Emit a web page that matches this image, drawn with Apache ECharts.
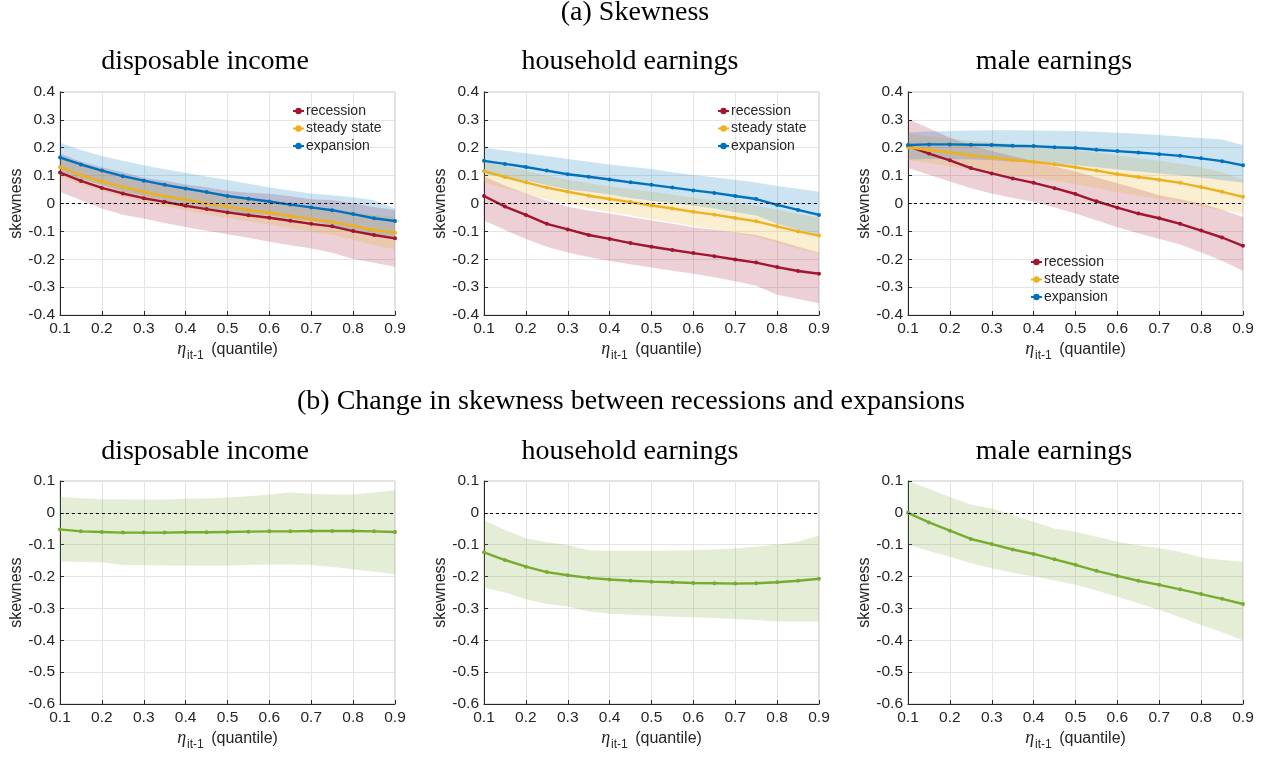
<!DOCTYPE html>
<html>
<head>
<meta charset="utf-8">
<title>Skewness by quantile</title>
<script src="https://cdn.jsdelivr.net/npm/echarts@6/dist/echarts.min.js"></script>
<style>
  html, body { margin: 0; padding: 0; background: #fff; }
  #chart { width: 1270px; height: 761px; }
</style>
</head>
<body>
<div id="chart"></div>
<script>
// x positions (quantile of eta_it-1)
const quantiles = [0.1, 0.15, 0.2, 0.25, 0.3, 0.35, 0.4, 0.45, 0.5, 0.55, 0.6, 0.65, 0.7, 0.75, 0.8, 0.85, 0.9]

const seriesNames = ['recession', 'steady state', 'expansion']
const panelTitles = ['disposable income', 'household earnings', 'male earnings']
const yTicksTop = [-0.4, 0.4]
const yTicksBottom = [-0.6, 0.1]

// (a) disposable income
const diRec = [0.111, 0.081, 0.056, 0.036, 0.019, 0.006, -0.008, -0.020, -0.032, -0.042, -0.051, -0.062, -0.073, -0.082, -0.099, -0.113, -0.125]
const diRecLo = [0.042, 0.012, -0.018, -0.040, -0.054, -0.070, -0.084, -0.098, -0.110, -0.123, -0.137, -0.150, -0.161, -0.177, -0.199, -0.213, -0.227]
const diRecHi = [0.180, 0.150, 0.130, 0.112, 0.092, 0.082, 0.068, 0.058, 0.046, 0.039, 0.035, 0.026, 0.015, 0.013, 0.001, -0.013, -0.023]
const diSteady = [0.131, 0.101, 0.079, 0.059, 0.042, 0.026, 0.014, 0.000, -0.012, -0.024, -0.033, -0.045, -0.056, -0.066, -0.080, -0.096, -0.105]
const diSteadyLo = [0.098, 0.068, 0.045, 0.024, 0.006, -0.011, -0.024, -0.039, -0.052, -0.065, -0.076, -0.089, -0.101, -0.113, -0.130, -0.150, -0.165]
const diSteadyHi = [0.165, 0.135, 0.113, 0.094, 0.078, 0.063, 0.052, 0.039, 0.028, 0.017, 0.010, -0.001, -0.011, -0.019, -0.030, -0.042, -0.045]
const diExp = [0.165, 0.140, 0.118, 0.098, 0.082, 0.067, 0.054, 0.041, 0.027, 0.017, 0.007, -0.004, -0.014, -0.024, -0.038, -0.053, -0.063]
const diExpLo = [0.112, 0.088, 0.066, 0.043, 0.027, 0.011, -0.002, -0.015, -0.030, -0.037, -0.043, -0.055, -0.064, -0.078, -0.098, -0.118, -0.125]
const diExpHi = [0.218, 0.192, 0.170, 0.153, 0.137, 0.123, 0.110, 0.097, 0.084, 0.071, 0.057, 0.047, 0.036, 0.030, 0.022, 0.012, -0.018]

// (a) household earnings
const heRec = [0.027, -0.011, -0.041, -0.073, -0.093, -0.113, -0.127, -0.142, -0.155, -0.167, -0.178, -0.189, -0.201, -0.212, -0.228, -0.242, -0.252]
const heRecLo = [-0.061, -0.095, -0.127, -0.155, -0.176, -0.192, -0.206, -0.218, -0.230, -0.241, -0.252, -0.265, -0.279, -0.295, -0.327, -0.343, -0.358]
const heRecHi = [0.097, 0.065, 0.036, 0.010, -0.012, -0.025, -0.036, -0.048, -0.061, -0.073, -0.085, -0.094, -0.103, -0.113, -0.133, -0.155, -0.176]
const heSteady = [0.116, 0.095, 0.076, 0.057, 0.042, 0.028, 0.016, 0.005, -0.007, -0.018, -0.030, -0.040, -0.052, -0.064, -0.082, -0.100, -0.115]
const heSteadyLo = [0.077, 0.055, 0.034, 0.014, -0.002, -0.017, -0.030, -0.042, -0.056, -0.068, -0.081, -0.092, -0.106, -0.120, -0.142, -0.162, -0.180]
const heSteadyHi = [0.155, 0.135, 0.118, 0.100, 0.086, 0.073, 0.062, 0.052, 0.042, 0.032, 0.021, 0.012, 0.002, -0.008, -0.022, -0.038, -0.050]
const heExp = [0.153, 0.142, 0.131, 0.118, 0.105, 0.096, 0.086, 0.076, 0.067, 0.057, 0.047, 0.038, 0.027, 0.016, -0.005, -0.023, -0.041]
const heExpLo = [0.106, 0.094, 0.082, 0.066, 0.050, 0.042, 0.032, 0.020, 0.010, 0.002, -0.008, -0.018, -0.031, -0.043, -0.073, -0.095, -0.110]
const heExpHi = [0.200, 0.190, 0.180, 0.170, 0.160, 0.150, 0.140, 0.132, 0.124, 0.112, 0.102, 0.094, 0.085, 0.075, 0.063, 0.053, 0.042]

// (a) male earnings
const meRec = [0.206, 0.179, 0.155, 0.127, 0.108, 0.090, 0.074, 0.055, 0.034, 0.008, -0.015, -0.036, -0.053, -0.073, -0.097, -0.122, -0.152]
const meRecLo = [0.127, 0.103, 0.079, 0.055, 0.036, 0.020, 0.006, -0.014, -0.036, -0.060, -0.085, -0.107, -0.127, -0.147, -0.176, -0.205, -0.242]
const meRecHi = [0.303, 0.270, 0.236, 0.210, 0.188, 0.170, 0.152, 0.133, 0.115, 0.094, 0.073, 0.052, 0.030, 0.015, 0.000, -0.022, -0.048]
const meSteady = [0.202, 0.192, 0.183, 0.172, 0.165, 0.156, 0.150, 0.141, 0.130, 0.118, 0.105, 0.095, 0.085, 0.074, 0.059, 0.042, 0.024]
const meSteadyLo = [0.155, 0.145, 0.133, 0.120, 0.110, 0.100, 0.092, 0.082, 0.068, 0.055, 0.040, 0.028, 0.017, 0.005, -0.010, -0.025, -0.035]
const meSteadyHi = [0.250, 0.240, 0.233, 0.225, 0.220, 0.213, 0.208, 0.201, 0.192, 0.182, 0.172, 0.163, 0.153, 0.143, 0.130, 0.112, 0.085]
const meExp = [0.210, 0.212, 0.212, 0.211, 0.210, 0.207, 0.206, 0.202, 0.199, 0.193, 0.188, 0.183, 0.177, 0.171, 0.162, 0.152, 0.137]
const meExpLo = [0.158, 0.160, 0.160, 0.158, 0.155, 0.150, 0.148, 0.143, 0.138, 0.130, 0.122, 0.115, 0.108, 0.101, 0.093, 0.083, 0.075]
const meExpHi = [0.255, 0.258, 0.260, 0.262, 0.263, 0.263, 0.262, 0.261, 0.260, 0.257, 0.254, 0.250, 0.246, 0.240, 0.235, 0.230, 0.210]

// (b) change between recessions and expansions
const diChange = [-0.052, -0.058, -0.060, -0.062, -0.062, -0.062, -0.061, -0.061, -0.060, -0.059, -0.058, -0.058, -0.057, -0.057, -0.057, -0.058, -0.060]
const diChangeLo = [-0.153, -0.154, -0.155, -0.164, -0.164, -0.165, -0.166, -0.166, -0.166, -0.164, -0.162, -0.162, -0.164, -0.170, -0.177, -0.185, -0.192]
const diChangeHi = [0.050, 0.046, 0.043, 0.043, 0.042, 0.042, 0.044, 0.045, 0.048, 0.052, 0.058, 0.064, 0.060, 0.058, 0.058, 0.064, 0.071]
const heChange = [-0.124, -0.148, -0.169, -0.186, -0.196, -0.204, -0.209, -0.213, -0.216, -0.218, -0.220, -0.221, -0.222, -0.221, -0.218, -0.213, -0.207]
const heChangeLo = [-0.234, -0.250, -0.271, -0.286, -0.294, -0.310, -0.317, -0.320, -0.323, -0.326, -0.328, -0.330, -0.333, -0.336, -0.341, -0.341, -0.341]
const heChangeHi = [-0.023, -0.054, -0.080, -0.092, -0.101, -0.117, -0.119, -0.119, -0.119, -0.118, -0.117, -0.115, -0.112, -0.106, -0.099, -0.091, -0.071]
const meChange = [0.000, -0.030, -0.056, -0.082, -0.098, -0.115, -0.129, -0.146, -0.163, -0.182, -0.198, -0.213, -0.226, -0.240, -0.255, -0.270, -0.286]
const meChangeLo = [-0.101, -0.120, -0.138, -0.158, -0.174, -0.188, -0.200, -0.212, -0.226, -0.244, -0.263, -0.284, -0.305, -0.328, -0.352, -0.375, -0.400]
const meChangeHi = [0.100, 0.076, 0.050, 0.026, 0.014, -0.007, -0.028, -0.049, -0.059, -0.075, -0.091, -0.102, -0.111, -0.122, -0.140, -0.148, -0.153]

const RED = '#A2142F'
const YELLOW = '#EDB120'
const BLUE = '#0072BD'
const GREEN = '#77AC30'
const AXIS = '#262626'

const colLeft = [60, 484, 908]
const rowTop = [92, 481]
const plotW = 335
const plotH = 223

function fade(hex, a) {
  const n = parseInt(hex.slice(1), 16)
  return `rgba(${(n >> 16) & 255},${(n >> 8) & 255},${n & 255},${a})`
}

function band(idx, lo, hi, color) {
  return {
    type: 'custom',
    xAxisIndex: idx,
    yAxisIndex: idx,
    silent: true,
    z: 1,
    data: quantiles.map((q, i) => [q, lo[i], hi[i]]),
    encode: { x: 0, y: [1, 2] },
    renderItem(params, api) {
      if (params.dataIndex !== 0) return null
      const top = quantiles.map((q, i) => api.coord([q, hi[i]]))
      const bottom = quantiles.map((q, i) => api.coord([q, lo[i]])).reverse()
      return {
        type: 'polygon',
        shape: { points: top.concat(bottom) },
        style: { fill: fade(color, 0.2) },
      }
    },
  }
}

function line(idx, name, values, color, zeroLine) {
  const s = {
    type: 'line',
    name,
    xAxisIndex: idx,
    yAxisIndex: idx,
    data: quantiles.map((q, i) => [q, values[i]]),
    symbol: 'circle',
    symbolSize: 4,
    lineStyle: { width: 2.4, color },
    itemStyle: { color },
    z: 3,
  }
  if (zeroLine) {
    s.markLine = {
      silent: true,
      symbol: ['none', 'none'],
      label: { show: false },
      lineStyle: { color: '#000', type: [3, 3], width: 1 },
      data: [{ yAxis: 0 }],
    }
  }
  return s
}

const grids = []
const xAxes = []
const yAxes = []
for (let r = 0; r < 2; r++) {
  for (let c = 0; c < 3; c++) {
    const i = r * 3 + c
    grids.push({
      left: colLeft[c], top: rowTop[r], width: plotW, height: plotH,
      show: true, borderColor: '#c4c4c4', borderWidth: 1, backgroundColor: 'transparent',
    })
    xAxes.push({
      type: 'value', gridIndex: i, min: 0.1, max: 0.9, interval: 0.1,
      axisLine: { show: true, onZero: false, lineStyle: { color: AXIS } },
      axisTick: { show: true, inside: true, length: 4, lineStyle: { color: AXIS } },
      axisLabel: {
        color: AXIS, fontSize: 15.5, fontFamily: 'Liberation Sans', margin: 6,
        formatter: (v) => v.toFixed(1),
      },
      splitLine: { show: true, lineStyle: { color: '#e4e4e4' } },
      name: '{eta|η}{sub|it-1} (quantile)',
      nameLocation: 'middle',
      nameGap: 22,
      nameTextStyle: {
        color: AXIS, fontSize: 16, fontFamily: 'Liberation Sans',
        rich: {
          eta: { fontFamily: 'Liberation Serif', fontStyle: 'italic', fontSize: 18, color: AXIS },
          sub: { fontFamily: 'Liberation Sans', fontSize: 12, color: AXIS, padding: [13, 3, 0, 1] },
        },
      },
    })
    const ext = r === 0 ? yTicksTop : yTicksBottom
    yAxes.push({
      type: 'value', gridIndex: i, min: ext[0], max: ext[1], interval: 0.1,
      axisLine: { show: true, onZero: false, lineStyle: { color: AXIS } },
      axisTick: { show: true, inside: true, length: 4, lineStyle: { color: AXIS } },
      axisLabel: {
        color: AXIS, fontSize: 15.5, fontFamily: 'Liberation Sans', margin: 5,
        formatter: (v) => {
          const k = Math.round(v * 10) / 10
          return k === 0 ? '0' : String(k)
        },
      },
      splitLine: { show: true, lineStyle: { color: '#e4e4e4' } },
      name: 'skewness',
      nameLocation: 'middle',
      nameGap: 34,
      nameTextStyle: { color: AXIS, fontSize: 16, fontFamily: 'Liberation Sans' },
    })
  }
}

const series = [
  band(0, diRecLo, diRecHi, RED), band(0, diSteadyLo, diSteadyHi, YELLOW), band(0, diExpLo, diExpHi, BLUE),
  line(0, 'recession', diRec, RED, true), line(0, 'steady state', diSteady, YELLOW), line(0, 'expansion', diExp, BLUE),
  band(1, heRecLo, heRecHi, RED), band(1, heSteadyLo, heSteadyHi, YELLOW), band(1, heExpLo, heExpHi, BLUE),
  line(1, 'recession', heRec, RED, true), line(1, 'steady state', heSteady, YELLOW), line(1, 'expansion', heExp, BLUE),
  band(2, meRecLo, meRecHi, RED), band(2, meSteadyLo, meSteadyHi, YELLOW), band(2, meExpLo, meExpHi, BLUE),
  line(2, 'recession', meRec, RED, true), line(2, 'steady state', meSteady, YELLOW), line(2, 'expansion', meExp, BLUE),
  band(3, diChangeLo, diChangeHi, GREEN), line(3, 'change', diChange, GREEN, true),
  band(4, heChangeLo, heChangeHi, GREEN), line(4, 'change', heChange, GREEN, true),
  band(5, meChangeLo, meChangeHi, GREEN), line(5, 'change', meChange, GREEN, true),
]

const titleFont = { fontFamily: 'Liberation Serif', fontSize: 28, fontWeight: 'normal', color: '#000' }
function label(text, x, y) {
  return { text, left: x, top: y, textAlign: 'center', textVerticalAlign: 'middle', padding: 0, textStyle: titleFont }
}
const subCenters = [205, 630, 1054]
const titles = [
  label('(a) Skewness', 635, 13),
  label('(b) Change in skewness between recessions and expansions', 631, 402),
]
panelTitles.forEach((t, c) => {
  titles.push(label(t, subCenters[c], 62))
  titles.push(label(t, subCenters[c], 452))
})

const legendPos = [[292, 104], [717, 104], [1030, 255]]
const legends = legendPos.map(([x, y]) => ({
  data: seriesNames,
  left: x, top: y,
  orient: 'vertical',
  padding: 0,
  itemWidth: 11, itemHeight: 8, itemGap: 3.5,
  selectedMode: false,
  textStyle: { fontSize: 14, fontFamily: 'Liberation Sans', color: AXIS, padding: [0, 0, 0, -3] },
}))

const chart = echarts.init(document.getElementById('chart'))
chart.setOption({
  animation: false,
  backgroundColor: '#fff',
  title: titles,
  legend: legends,
  grid: grids,
  xAxis: xAxes,
  yAxis: yAxes,
  series,
})
</script>
</body>
</html>
